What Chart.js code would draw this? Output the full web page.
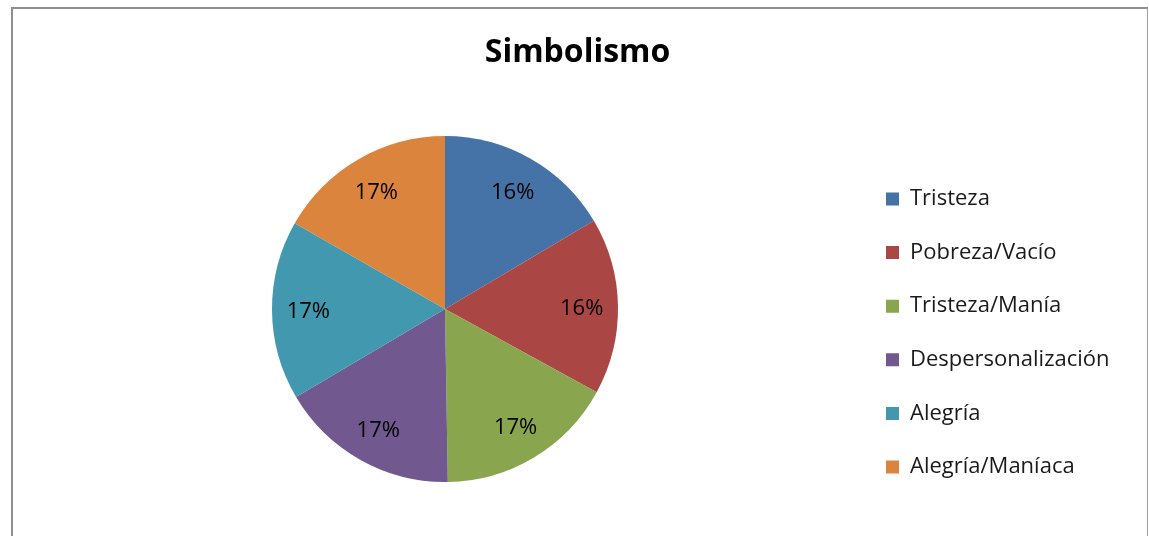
<!DOCTYPE html>
<html>
<head>
<meta charset="utf-8">
<script src="https://cdn.jsdelivr.net/npm/chart.js@4.4.1/dist/chart.umd.min.js"></script>
<style>
  html, body { margin: 0; padding: 0; background: #fff; }
  #wrap { position: relative; width: 1149px; height: 536px; overflow: hidden; }
  #frame { position: absolute; left: 11px; top: 7px; width: 1134px; height: 600px;
           border-left: 2px solid #8e8e8e; border-top: 2px solid #8e8e8e; border-right: 1px solid #a0a0a0; }
  #c { position: absolute; left: 0; top: 0; }
</style>
</head>
<body>
<div id="wrap">
  <div id="frame"></div>
  <canvas id="c" width="1149" height="536"></canvas>
</div>
<script>
const titleText = 'Simbolismo';
const categories = ['Tristeza', 'Pobreza/Vacío', 'Tristeza/Manía', 'Despersonalización', 'Alegría', 'Alegría/Maníaca'];
const values = [16.49, 16.49, 16.76, 16.76, 16.75, 16.75];
const colors = ['#4572A7', '#AA4643', '#89A54E', '#71588F', '#4198AF', '#DB843D'];

const FONT = '"Open Sans", Lato, sans-serif';
const PIE_CX = 445, PIE_R = 173;
const LEG_PAD = 31.6, LEG_BOX_X = 886;

const pctLabels = {
  id: 'pctLabels',
  afterDatasetsDraw(chart) {
    const ctx = chart.ctx;
    const meta = chart.getDatasetMeta(0);
    const total = values.reduce((a, b) => a + b, 0);
    ctx.save();
    ctx.font = '22px ' + FONT;
    ctx.fillStyle = '#000';
    ctx.textAlign = 'center';
    ctx.textBaseline = 'middle';
    meta.data.forEach((arc, i) => {
      const p = arc.getProps(['x', 'y', 'startAngle', 'endAngle', 'outerRadius']);
      const mid = (p.startAngle + p.endAngle) / 2;
      const r = p.outerRadius * 0.79;
      const txt = Math.round(values[i] / total * 100) + '%';
      ctx.fillText(txt, p.x + Math.cos(mid) * r, p.y + Math.sin(mid) * r + 2);
    });
    ctx.restore();
  }
};

const legendLeft = LEG_BOX_X - LEG_PAD;
const chart = new Chart(document.getElementById('c'), {
  type: 'pie',
  data: {
    labels: categories,
    datasets: [{ data: values, backgroundColor: colors, borderWidth: 0, radius: PIE_R }]
  },
  options: {
    responsive: false,
    animation: false,
    layout: { padding: { left: 2 * PIE_CX - legendLeft, right: 30, top: 0, bottom: 0 } },
    plugins: {
      title: {
        display: true,
        text: titleText,
        color: '#000',
        font: { family: FONT, size: 32, weight: 'bold' },
        padding: { top: 33.8, bottom: 9.8 }
      },
      legend: {
        position: 'right',
        title: { display: true, text: ' ', font: { size: 10 }, padding: { top: 118, bottom: 0 } },
        labels: {
          color: '#1a1a1a',
          font: { family: FONT, size: 22 },
          boxWidth: 13,
          boxHeight: 13,
          padding: LEG_PAD
        }
      },
      tooltip: { enabled: false }
    }
  },
  plugins: [pctLabels]
});
// place the legend so its boxes start at the reference column
const lw = chart.legend.width;
chart.options.layout.padding.right = 1149 - legendLeft - lw;
chart.update();
</script>
</body>
</html>
